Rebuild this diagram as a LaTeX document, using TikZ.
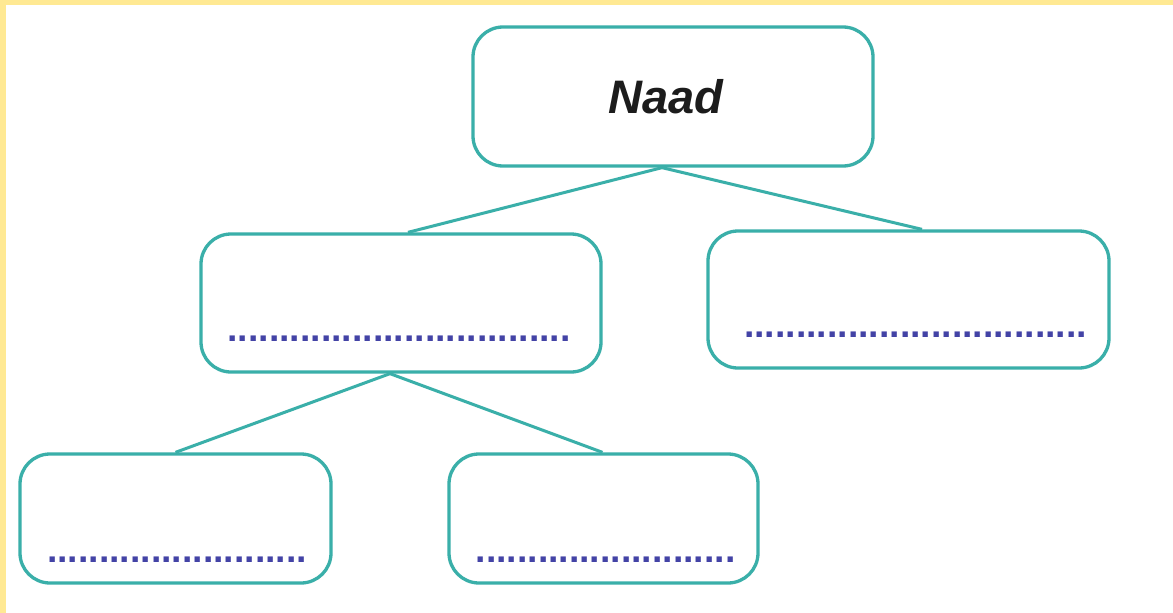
\documentclass[tikz,border=0pt]{standalone}
\usepackage{fontspec}
\setmainfont{Liberation Sans}
\usetikzlibrary{positioning}

\definecolor{boxline}{HTML}{3AAFA9}
\definecolor{dotblue}{HTML}{4343A6}
\definecolor{frameyellow}{HTML}{FFE993}
\definecolor{titletext}{HTML}{1C1C1C}

\begin{document}
\begin{tikzpicture}[
			x = 1pt,
			y = -1pt,
			link/.style = {draw = boxline, line width = 3pt},
			semithick]

			\tikzstyle{every box}=[
			draw = boxline,
			line width = 3.3pt,
			fill = white,
			rounded corners = 30pt,
			inner sep = 0pt]

			\tikzstyle{blank}=[
			font = \fontsize{37.4}{40}\selectfont\bfseries,
			text = dotblue,
			inner sep = 0pt,
			anchor = base]

			\fill[frameyellow] (0,0) rectangle (1173,613);
			\fill[white] (6,5) rectangle (1173,613);
			\useasboundingbox (0,0) rectangle (1173,613);

			\node[every box, minimum width=400pt, minimum height=139pt, text=titletext,
			font=\fontsize{47}{52}\selectfont\bfseries\itshape] (naad) at (673,96.5) {\hspace*{-14pt}Naad};
			\node[every box, minimum width=400pt, minimum height=138pt] (m1) at (401,303) {};
			\node[every box, minimum width=401pt, minimum height=137pt] (m2) at (908.5,299.5) {};
			\node[every box, minimum width=311pt, minimum height=129pt] (b1) at (175.5,518.5) {};
			\node[every box, minimum width=309pt, minimum height=129pt] (b2) at (603.5,518.5) {};

			\node[blank, above=32pt of m1.south, xshift=-2pt] (d1) {.................................};
			\node[blank, above=32pt of m2.south, xshift=7pt] (d2) {.................................};
			\node[blank, above=22pt of b1.south, xshift=1.5pt] (d3) {.........................};
			\node[blank, above=22pt of b2.south, xshift=2pt] (d4) {.........................};

			\path[link] ([xshift=-11pt]naad.south) -- ([xshift=7pt]m1.north)
			([xshift=-11pt]naad.south) -- ([xshift=13.5pt]m2.north)
			([xshift=-11pt]m1.south) -- (b1.north)
			([xshift=-11pt]m1.south) -- ([xshift=-1pt]b2.north);
		\end{tikzpicture}
\end{document}
